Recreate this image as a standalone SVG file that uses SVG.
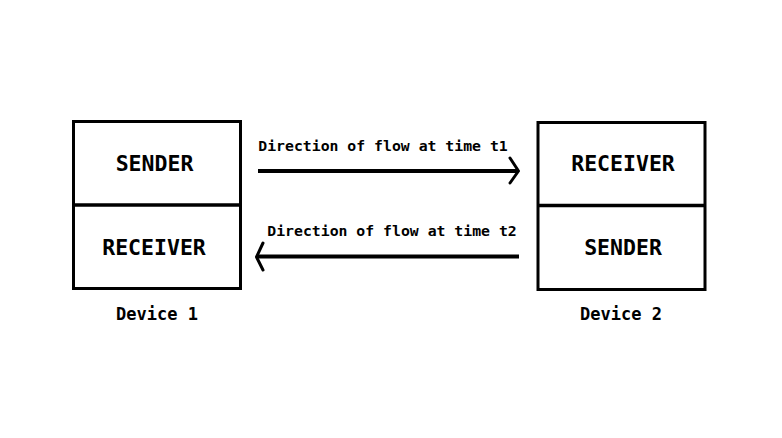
<svg xmlns="http://www.w3.org/2000/svg" width="782" height="438" viewBox="0 0 782 438">
<style>
.box{fill:#fff;stroke:#000;stroke-width:3}
.div{stroke:#000;stroke-width:3.5}
.t{font-family:"DejaVu Sans Mono","Liberation Mono",monospace;font-weight:bold;fill:#000;text-anchor:middle}
.big{font-size:21.5px}
.lbl{font-size:17px}
.al{font-size:14.8px}
.line{stroke:#000;stroke-width:4;fill:none}
.head{stroke:#000;stroke-width:3;fill:none;stroke-linecap:round;stroke-linejoin:round}
</style>
<rect width="782" height="438" fill="#fff"/>
<g id="device1">
<rect class="box" x="73.5" y="121.5" width="167" height="167"/>
<line class="div" x1="73.5" y1="205" x2="240.5" y2="205"/>
<text class="t big" x="154.5" y="170.5">SENDER</text>
<text class="t big" x="154" y="254.5">RECEIVER</text>
<text class="t lbl" x="157" y="320">Device 1</text>
</g>
<g id="device2">
<rect class="box" x="538" y="122.5" width="167" height="167"/>
<line class="div" x1="538" y1="205.5" x2="705" y2="205.5"/>
<text class="t big" x="623" y="170.5">RECEIVER</text>
<text class="t big" x="623" y="254.5">SENDER</text>
<text class="t lbl" x="621" y="320">Device 2</text>
</g>
<g id="connectors">
<line class="line" x1="258" y1="171" x2="517" y2="171"/>
<path class="head" d="M510,158 L518.5,171 L510,183"/>
<text class="t al" x="383" y="151">Direction of flow at time t1</text>
<line class="line" x1="258" y1="256.5" x2="519" y2="256.5"/>
<path class="head" d="M263,243 L256.5,257 L263,270"/>
<text class="t al" x="392" y="236">Direction of flow at time t2</text>
</g>
</svg>
